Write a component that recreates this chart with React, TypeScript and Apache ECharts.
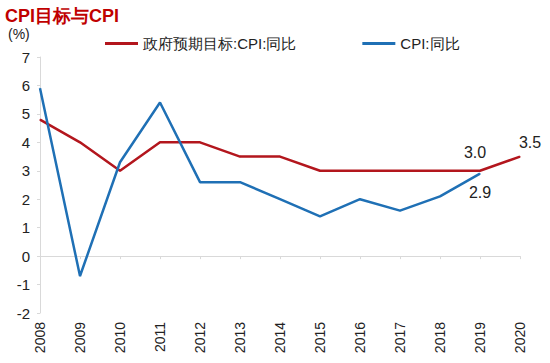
import React, { useEffect, useRef } from "react";
import * as echarts from "echarts";

const years = ["2008","2009","2010","2011","2012","2013","2014","2015","2016","2017","2018","2019","2020"];
const targetCPI = [4.8, 4.0, 3.0, 4.0, 4.0, 3.5, 3.5, 3.0, 3.0, 3.0, 3.0, 3.0, 3.5];
const actualCPI = [5.9, -0.7, 3.3, 5.4, 2.6, 2.6, 2.0, 1.4, 2.0, 1.6, 2.1, 2.9, null];
const yTicks = { min: -2, max: 7, interval: 1 };

const RED = "#b3161d";
const BLUE = "#1f70b5";
const FONT = "Liberation Sans, Arial, sans-serif";

export default function App() {
  const ref = useRef<HTMLDivElement>(null);
  useEffect(() => {
    const chart = echarts.init(ref.current!, null, { renderer: "svg" });
    const lbl = (pos: string, offset: number[], distance: number) => ({
      show: true,
      position: pos,
      distance,
      offset,
      formatter: (p: any) => Number(p.value).toFixed(1),
      fontSize: 16,
      color: "#222",
      fontFamily: FONT,
    });
    chart.setOption({
      animation: false,
      textStyle: { fontFamily: FONT },
      title: {
        text: "CPI目标与CPI",
        left: 0,
        top: 2,
        textStyle: { color: "#c00000", fontSize: 18, fontWeight: "bold", fontFamily: FONT },
      },
      graphic: [
        { type: "text", left: 8, top: 27, style: { text: "(%)", fontSize: 14, fill: "#222", fontFamily: FONT } },
      ],
      legend: {
        top: 31,
        left: 100,
        itemGap: 66,
        itemWidth: 33,
        itemHeight: 3,
        icon: "rect",
        textStyle: { fontSize: 15, color: "#222", fontFamily: FONT },
        data: ["政府预期目标:CPI:同比", "CPI:同比"],
      },
      grid: { left: 40, right: 30, top: 57, bottom: 50 },
      xAxis: [
        {
          type: "category",
          data: years,
          boundaryGap: false,
          axisLine: { onZero: true, lineStyle: { color: "#d9d9d9", width: 1 } },
          axisTick: { show: true, inside: false, length: 3, lineStyle: { color: "#d9d9d9" } },
          axisLabel: { show: false },
        },
        {
          type: "category",
          data: years,
          boundaryGap: false,
          position: "bottom",
          axisLine: { show: false, onZero: false },
          axisTick: { show: false },
          axisLabel: { rotate: 90, fontSize: 14, color: "#222", margin: 9, fontFamily: FONT },
        },
      ],
      yAxis: {
        type: "value",
        min: yTicks.min,
        max: yTicks.max,
        interval: yTicks.interval,
        axisLine: { show: true, lineStyle: { color: "#d9d9d9" } },
        axisTick: { show: true, length: 3, lineStyle: { color: "#d9d9d9" } },
        axisLabel: { fontSize: 15, color: "#222", margin: 10, fontFamily: FONT },
        splitLine: { show: false },
      },
      series: [
        {
          name: "政府预期目标:CPI:同比",
          type: "line",
          xAxisIndex: 0,
          data: targetCPI.map((v, i) =>
            i === 11
              ? { value: v, label: lbl("top", [-5, 0], 10) }
              : i === 12
              ? { value: v, label: lbl("top", [10, 0], 6) }
              : v
          ),
          symbol: "circle",
          symbolSize: 1,
          showSymbol: true,
          lineStyle: { color: RED, width: 2.5 },
          itemStyle: { color: RED },
          label: { show: false },
        },
        {
          name: "CPI:同比",
          type: "line",
          xAxisIndex: 0,
          data: actualCPI.map((v, i) =>
            i === 11 ? { value: v, label: lbl("bottom", [0, 0], 10) } : v
          ),
          symbol: "circle",
          symbolSize: 1,
          showSymbol: true,
          lineStyle: { color: BLUE, width: 2.5 },
          itemStyle: { color: BLUE },
          label: { show: false },
        },
      ],
    });
    return () => chart.dispose();
  }, []);
  return <div ref={ref} style={{ width: 550, height: 363, position: "absolute", left: 0, top: 0, background: "#fff" }} />;
}
